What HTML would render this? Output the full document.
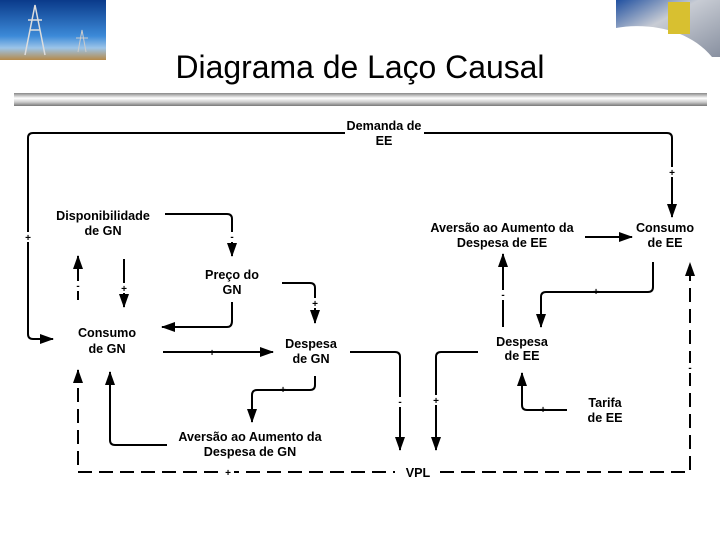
<!DOCTYPE html>
<html><head><meta charset="utf-8"><style>
html,body{margin:0;padding:0;background:#fff;width:720px;height:540px;overflow:hidden}
svg{display:block}
.t{font-family:"Liberation Sans",Arial,sans-serif;font-weight:bold;font-size:12.6px;fill:#000;text-anchor:middle}
.s{font-family:"Liberation Sans",Arial,sans-serif;font-size:10px;font-weight:bold;fill:#000;text-anchor:middle}
.l{fill:none;stroke:#000;stroke-width:2}
.d{fill:none;stroke:#000;stroke-width:2;stroke-dasharray:14,7}
</style></head><body>
<svg width="720" height="540" viewBox="0 0 720 540" xmlns="http://www.w3.org/2000/svg">
<defs>
<marker id="a" markerWidth="14" markerHeight="10" refX="13" refY="5" orient="auto" markerUnits="userSpaceOnUse" viewBox="0 0 14 10">
<path d="M0,0 L14,5 L0,10 z" fill="#000"/></marker>
<linearGradient id="sky" x1="0" y1="0" x2="0" y2="1"><stop offset="0" stop-color="#0a3a8a"/><stop offset="0.6" stop-color="#3c8ad8"/><stop offset="0.8" stop-color="#9cc4e8"/><stop offset="1" stop-color="#b58a4a"/></linearGradient>
<linearGradient id="bar" x1="0" y1="0" x2="0" y2="1"><stop offset="0" stop-color="#888"/><stop offset="0.4" stop-color="#fff"/><stop offset="0.7" stop-color="#ccc"/><stop offset="1" stop-color="#777"/></linearGradient>
<linearGradient id="pipe" x1="0" y1="0" x2="1" y2="1"><stop offset="0" stop-color="#2050a0"/><stop offset="0.4" stop-color="#c8ccd4"/><stop offset="1" stop-color="#8890a0"/></linearGradient>
</defs>
<rect x="0" y="0" width="106" height="60" fill="url(#sky)"/>
<path d="M25,55 L35,5 L45,55 M30,30 L40,30 M28,20 L42,20" stroke="#ddd" stroke-width="1.5" fill="none"/>
<path d="M78,52 L82,30 L86,52 M76,38 L88,38" stroke="#ccc" stroke-width="1" fill="none"/>
<path d="M616,0 L720,0 L720,57 L712,57 C690,30 650,22 616,28 z" fill="url(#pipe)"/>
<rect x="668" y="2" width="22" height="32" fill="#d8c030"/>
<text x="360" y="78" font-family="Liberation Sans,Arial,sans-serif" font-size="32" text-anchor="middle" textLength="369" lengthAdjust="spacingAndGlyphs">Diagrama de Laço Causal</text>
<rect x="14" y="93" width="693" height="13" fill="url(#bar)"/>

<g class="t">
<text x="384" y="130">Demanda de</text><text x="384" y="145">EE</text>
<text x="103" y="220">Disponibilidade</text><text x="103" y="235">de GN</text>
<text x="232" y="279">Preço do</text><text x="232" y="294">GN</text>
<text x="107" y="337">Consumo</text><text x="107" y="353">de GN</text>
<text x="311" y="348">Despesa</text><text x="311" y="363">de GN</text>
<text x="250" y="441">Aversão ao Aumento da</text><text x="250" y="456">Despesa de GN</text>
<text x="418" y="477">VPL</text>
<text x="502" y="232">Aversão ao Aumento da</text><text x="502" y="247">Despesa de EE</text>
<text x="665" y="232">Consumo</text><text x="665" y="247">de EE</text>
<text x="522" y="346">Despesa</text><text x="522" y="360">de EE</text>
<text x="605" y="407">Tarifa</text><text x="605" y="422">de EE</text>
</g>

<path class="l" d="M345,133 L33,133 Q28,133 28,138 L28,334 Q28,339 33,339 L53,339" marker-end="url(#a)"/>
<path class="l" d="M424,133 L667,133 Q672,133 672,138 L672,217" marker-end="url(#a)"/>
<path class="l" d="M165,214 L227,214 Q232,214 232,219 L232,256" marker-end="url(#a)"/>
<path class="l" d="M78,300 L78,256" marker-end="url(#a)"/>
<path class="l" d="M124,259 L124,307" marker-end="url(#a)"/>
<path class="l" d="M232,302 L232,321 Q232,327 227,327 L162,327" marker-end="url(#a)"/>
<path class="l" d="M282,283 L310,283 Q315,283 315,288 L315,323" marker-end="url(#a)"/>
<path class="l" d="M163,352 L273,352" marker-end="url(#a)"/>
<path class="l" d="M315,376 L315,385 Q315,390 310,390 L257,390 Q252,390 252,395 L252,422" marker-end="url(#a)"/>
<path class="l" d="M167,445 L115,445 Q110,445 110,440 L110,372" marker-end="url(#a)"/>
<path class="d" d="M78,465 L78,370" marker-end="url(#a)"/>
<path class="d" d="M78,472 L395,472"/>
<path class="d" d="M440,472 L690,472 L690,263" marker-end="url(#a)"/>
<path class="l" d="M350,352 L395,352 Q400,352 400,357 L400,450" marker-end="url(#a)"/>
<path class="l" d="M478,352 L441,352 Q436,352 436,357 L436,450" marker-end="url(#a)"/>
<path class="l" d="M503,327 L503,254" marker-end="url(#a)"/>
<path class="l" d="M653,262 L653,287 Q653,292 648,292 L546,292 Q541,292 541,297 L541,327" marker-end="url(#a)"/>
<path class="l" d="M585,237 L632,237" marker-end="url(#a)"/>
<path class="l" d="M567,410 L527,410 Q522,410 522,405 L522,373" marker-end="url(#a)"/>

<g class="s">
<rect x="24" y="232" width="8" height="10" fill="#fff"/><text x="28" y="241">+</text>
<rect x="668" y="167" width="8" height="10" fill="#fff"/><text x="672" y="176">+</text>
<rect x="228" y="232" width="8" height="10" fill="#fff"/><text x="232" y="240">-</text>
<rect x="74" y="281" width="8" height="10" fill="#fff"/><text x="78" y="289">-</text>
<rect x="120" y="283" width="8" height="10" fill="#fff"/><text x="124" y="292">+</text>
<text x="198" y="330">-</text>
<rect x="311" y="298" width="8" height="10" fill="#fff"/><text x="315" y="307">+</text>
<text x="212" y="356">+</text>
<text x="283" y="393">+</text>
<text x="140" y="448">-</text>
<rect x="222" y="467" width="12" height="10" fill="#fff"/><text x="228" y="476">+</text>
<rect x="686" y="363" width="8" height="10" fill="#fff"/><text x="690" y="371">-</text>
<rect x="396" y="397" width="8" height="10" fill="#fff"/><text x="400" y="405">-</text>
<rect x="432" y="395" width="8" height="10" fill="#fff"/><text x="436" y="404">+</text>
<rect x="499" y="290" width="8" height="10" fill="#fff"/><text x="503" y="298">-</text>
<text x="596" y="295">+</text>
<text x="608" y="240">-</text>
<text x="543" y="413">+</text>
</g>
</svg>
</body></html>
